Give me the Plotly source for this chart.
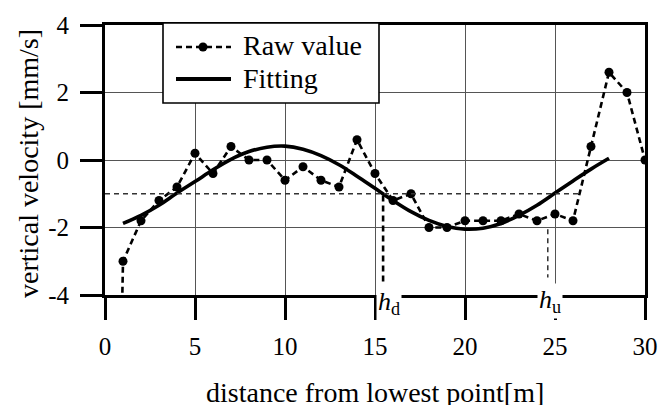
import plotly.graph_objects as go

# ---- data ----
raw_x = [0, 1, 2, 3, 4, 5, 6, 7, 8, 9, 10, 11, 12, 13, 14, 15, 16, 17, 18, 19, 20,
         21, 22, 23, 24, 25, 26, 27, 28, 29, 30]
raw_y = [-30.0, -3.0, -1.8, -1.2, -0.8, 0.2, -0.4, 0.4, 0.0, 0.0, -0.6, -0.2, -0.6, -0.8,
         0.6, -0.4, -1.2, -1.0, -2.0, -2.0, -1.8, -1.8, -1.8, -1.6, -1.8, -1.6, -1.8,
         0.4, 2.6, 2.0, 0.0]

fit_x = [1, 2, 3, 4, 5, 6, 7, 8, 9, 10, 11, 12, 13, 14, 15, 16, 17, 18, 19, 20,
         21, 22, 23, 24, 25, 26, 27, 28]
fit_y = [-1.88, -1.64, -1.34, -0.98, -0.64, -0.29, 0.02, 0.25, 0.38, 0.41, 0.32, 0.13,
         -0.14, -0.48, -0.84, -1.20, -1.53, -1.79, -1.97, -2.05, -2.02, -1.88, -1.64,
         -1.34, -0.98, -0.62, -0.27, 0.05]

threshold = -1.0
threshold_end_x = 26.36
hd_x, hd_top, hd_bottom = 15.45, -1.05, -3.62
hu_x, hu_top, hu_bottom = 24.6, -2.05, -3.48

x_ticks = [0, 5, 10, 15, 20, 25, 30]
y_ticks = [-4, -2, 0, 2, 4]
y_ticktext = ["-4", "-2", "0", "2", "4"]

x_title = "distance from lowest point[m]"
y_title = "vertical velocity [mm/s]"

FONT = "Liberation Serif"

fig = go.Figure()

fig.add_trace(go.Scatter(
    x=fit_x, y=fit_y, mode="lines", name="Fitting",
    line=dict(color="black", width=3.6, shape="spline", smoothing=1.0),
    showlegend=False,
))
fig.add_trace(go.Scatter(
    x=raw_x, y=raw_y, mode="lines+markers", name="Raw value",
    line=dict(color="black", width=2.6, dash="6px,4px"),
    marker=dict(color="black", size=9),
    showlegend=False,
))

shapes = [
    # threshold line
    dict(type="line", xref="x", yref="y", x0=0, x1=threshold_end_x, y0=threshold, y1=threshold,
         line=dict(color="#333333", width=1.4, dash="5px,4px"), layer="above"),
    # h_d
    dict(type="line", xref="x", yref="y", x0=hd_x, x1=hd_x, y0=hd_top, y1=hd_bottom,
         line=dict(color="black", width=2.6, dash="6px,4px"), layer="above"),
    # h_u
    dict(type="line", xref="x", yref="y", x0=hu_x, x1=hu_x, y0=hu_top, y1=hu_bottom,
         line=dict(color="#222222", width=1.4, dash="5px,4px"), layer="above"),
]

# manual legend (paper coords; plot area is 540 x 270 px)
def px_x(p):
    return (p - 105) / 540.0

def px_y(p):
    return (295 - p) / 270.0

shapes += [
    dict(type="rect", xref="paper", yref="paper", x0=px_x(163), x1=px_x(379),
         y0=px_y(103), y1=px_y(23), fillcolor="white",
         line=dict(color="black", width=1.6), layer="above"),
    dict(type="line", xref="paper", yref="paper", x0=px_x(176), x1=px_x(231),
         y0=px_y(47), y1=px_y(47), line=dict(color="black", width=2.6, dash="6px,4px"),
         layer="above"),
    dict(type="circle", xref="paper", yref="paper", x0=px_x(198.5), x1=px_x(207.5),
         y0=px_y(51.5), y1=px_y(42.5), fillcolor="black", line=dict(color="black", width=0),
         layer="above"),
    dict(type="line", xref="paper", yref="paper", x0=px_x(176), x1=px_x(231),
         y0=px_y(79), y1=px_y(79), line=dict(color="black", width=4), layer="above"),
]

annotations = [
    dict(text="Raw value", xref="paper", yref="paper", x=px_x(241), y=px_y(46),
         xanchor="left", yanchor="middle", showarrow=False,
         font=dict(family=FONT, size=28, color="black")),
    dict(text="Fitting", xref="paper", yref="paper", x=px_x(241), y=px_y(79),
         xanchor="left", yanchor="middle", showarrow=False,
         font=dict(family=FONT, size=28, color="black")),
    dict(text="<i>h</i><sub>d</sub>", xref="x", yref="paper", x=hd_x + 0.35, y=px_y(303),
         xanchor="center", yanchor="middle", showarrow=False, bgcolor="white", borderpad=1,
         font=dict(family=FONT, size=26, color="black")),
    dict(text="<i>h</i><sub>u</sub>", xref="x", yref="paper", x=hu_x + 0.12, y=px_y(301),
         xanchor="center", yanchor="middle", showarrow=False, bgcolor="white", borderpad=1,
         font=dict(family=FONT, size=26, color="black")),
    # axis titles
    dict(text=x_title, xref="paper", yref="paper", x=0.5, y=px_y(392),
         xanchor="center", yanchor="middle", showarrow=False,
         font=dict(family=FONT, size=28, color="black")),
    dict(text=y_title, xref="paper", yref="paper", x=px_x(28), y=px_y(164),
         xanchor="center", yanchor="middle", showarrow=False, textangle=-90,
         font=dict(family=FONT, size=28, color="black")),
]

fig.update_layout(
    width=659, height=405,
    margin=dict(l=105, r=14, t=25, b=110),
    paper_bgcolor="white", plot_bgcolor="white",
    font=dict(family=FONT, size=25, color="black"),
    shapes=shapes, annotations=annotations,
    showlegend=False,
)
fig.update_xaxes(
    range=[0, 30], tickvals=x_ticks, ticks="outside", ticklen=22, tickwidth=3,
    tickcolor="black", showline=True, linewidth=3, linecolor="black", mirror=True,
    showgrid=True, gridcolor="#555555", gridwidth=1, zeroline=False,
    tickfont=dict(family=FONT, size=25), ticklabelstandoff=5,
    automargin=False,
)
fig.update_yaxes(
    range=[-4, 4], tickvals=y_ticks, ticktext=y_ticktext, ticks="outside", ticklen=22,
    tickwidth=3, tickcolor="black", showline=True, linewidth=3, linecolor="black",
    mirror=True, showgrid=True, gridcolor="#555555", gridwidth=1, zeroline=False,
    tickfont=dict(family=FONT, size=25), ticklabelstandoff=6,
    automargin=False,
)

fig.write_html("out.html")
